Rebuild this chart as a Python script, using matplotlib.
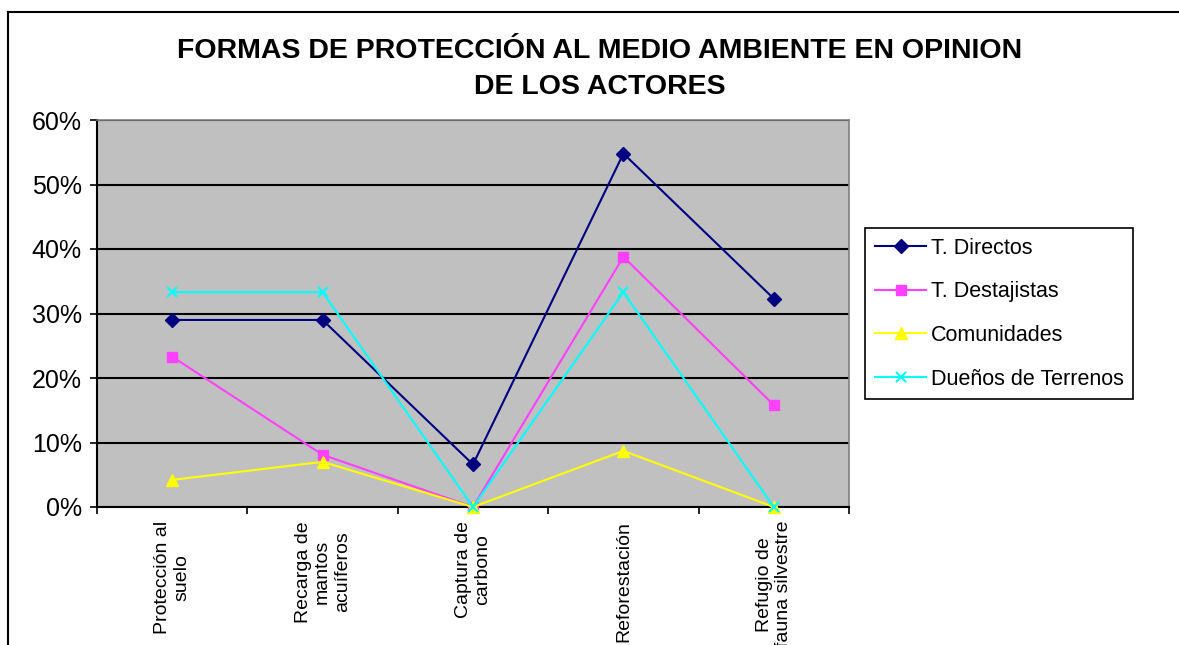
import matplotlib
matplotlib.use("Agg")
import matplotlib.pyplot as plt
from matplotlib.lines import Line2D
from matplotlib.ticker import PercentFormatter
import numpy as np

plt.rcParams['font.family'] = ['Liberation Sans', 'DejaVu Sans']

categorias = ["Protección al\nsuelo", "Recarga de\nmantos\nacuíferos", "Captura de\ncarbono",
              "Reforestación", "Refugio de\nfauna silvestre"]
t_directos = [0.29, 0.29, 0.066, 0.548, 0.323]
t_destajistas = [0.233, 0.081, 0.0, 0.388, 0.158]
comunidades = [0.042, 0.070, 0.0, 0.087, 0.0]
duenos = [0.333, 0.333, 0.0, 0.333, 0.0]

series = [
    ("T. Directos", t_directos, "#000080", "D", 7),
    ("T. Destajistas", t_destajistas, "#FF40FF", "s", 7),
    ("Comunidades", comunidades, "#FFFF00", "^", 8),
    ("Dueños de Terrenos", duenos, "#00FFFF", "x", 7),
]

fig = plt.figure(figsize=(11.79, 6.45), dpi=100)
ax = fig.add_axes([97 / 1179, 1 - 507 / 645, (849 - 97) / 1179, (507 - 120) / 645])
ax.set_facecolor("#C0C0C0")

x = np.arange(len(categorias))
for nombre, vals, color, marker, ms in series:
    ax.plot(x, vals, color=color, marker=marker, markersize=ms, linewidth=1.5,
            markeredgewidth=1.5 if marker == "x" else 1, label=nombre, clip_on=False, zorder=3)

ax.set_xlim(-0.5, len(categorias) - 0.5)
ax.set_ylim(0, 0.6)
ax.set_yticks(np.arange(0, 0.61, 0.1))
ax.yaxis.set_major_formatter(PercentFormatter(1.0, decimals=0))
ax.yaxis.grid(True, color="black", linewidth=1.5)
ax.set_axisbelow(True)

ax.set_xticks(np.arange(-0.5, len(categorias), 1.0))
ax.set_xticklabels([])
ax.set_xticks(x, minor=True)
ax.set_xticklabels(categorias, minor=True, rotation=90, ha="center", va="top",
                   multialignment="center", fontsize=14, linespacing=1.2)
ax.tick_params(axis="x", which="minor", length=0, pad=10)
ax.tick_params(axis="x", which="major", length=5, width=1.2, direction="out")
ax.tick_params(axis="y", length=5, width=1.2, direction="out", labelsize=18, pad=6)

for s in ["left", "bottom"]:
    ax.spines[s].set_color("black")
    ax.spines[s].set_linewidth(1.5)
for s in ["top", "right"]:
    ax.spines[s].set_color("#808080")
    ax.spines[s].set_linewidth(1.2)

fig.text(600 / 1179, 1 - 69 / 645, "FORMAS DE PROTECCIÓN AL MEDIO AMBIENTE EN OPINION\nDE LOS ACTORES",
         ha="center", va="center", fontsize=20.5, fontweight="bold", linespacing=1.45)

leg = fig.legend(loc="upper left", bbox_to_anchor=(865 / 1179, 1 - 228 / 645), fontsize=15.5,
                 frameon=True, fancybox=False, edgecolor="black", framealpha=1,
                 borderpad=0.45, labelspacing=1.05, handlelength=2.4, handletextpad=0.2,
                 borderaxespad=0)
leg.get_frame().set_linewidth(1.2)

fig.add_artist(Line2D([8 / 1179, 1.0], [1 - 12 / 645, 1 - 12 / 645], color="black", linewidth=1.5))
fig.add_artist(Line2D([8 / 1179, 8 / 1179], [0.0, 1 - 12 / 645], color="black", linewidth=1.5))

fig.savefig("out.png", dpi=100)
